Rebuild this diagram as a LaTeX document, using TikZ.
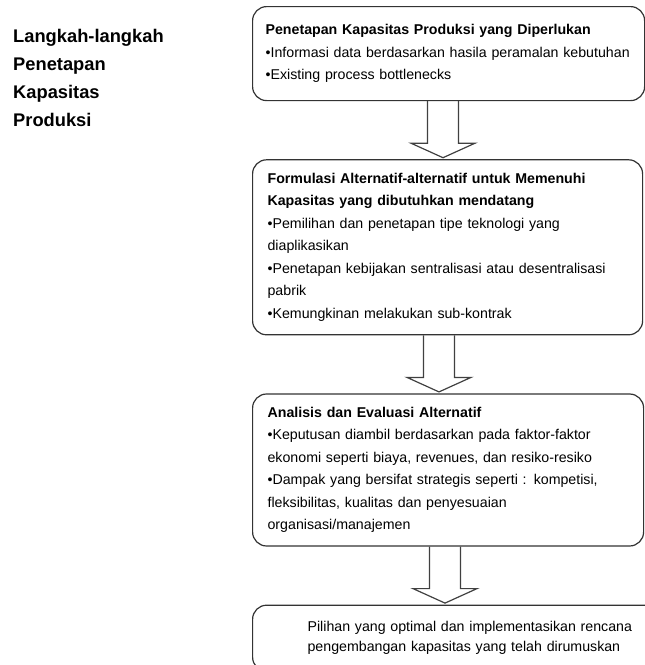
\documentclass[tikz,border=0pt]{standalone}
\usepackage{fontspec}
\setmainfont{Liberation Sans}
\usetikzlibrary{positioning, calc}

% hollow block arrow between two stages: from, to, x of the arrow axis
\newcommand{\hollowarrow}[3]{%
  \draw[hollow] let \p1=(#1.south), \p2=(#2.north) in
    (#3pt-15.5pt,\y1) -- (#3pt-15.5pt,\y2+16pt) -- (#3pt-32pt,\y2+16pt)
    -- (#3pt,\y2+1.5pt) -- (#3pt+32pt,\y2+16pt) -- (#3pt+15.5pt,\y2+16pt)
    -- (#3pt+15.5pt,\y1);}

\begin{document}
\begin{tikzpicture}[x=1pt, y=-1pt, node distance=58pt,
    stage/.style={draw=black!80, line width=1.2pt, rounded corners=14pt,
      align=left, inner xsep=13pt, font=\fontsize{14.2}{22.5}\selectfont},
    hollow/.style={draw=black!75, line width=1.2pt, line join=miter}]
    \useasboundingbox (0,0) rectangle (645,665);
    \clip (0,0) rectangle (645,665);
    % Title
    \node (title) [anchor=north west, align=left, inner sep=0pt,
      font=\fontsize{18.3}{28}\selectfont\bfseries] at (13,29)
      {Langkah-langkah\\ Penetapan\\ Kapasitas\\ Produksi};
    % Stages
    \node (need) [stage, anchor=north west, text width=366pt, minimum height=94pt] at (252,6)
      {\textbf{Penetapan Kapasitas Produksi yang Diperlukan}\\
       •Informasi data berdasarkan hasila peramalan kebutuhan\\
       •Existing process bottlenecks};
    \node (formulate) [stage, below=of need.south west, anchor=north west,
      text width=360pt, minimum height=175pt, inner xsep=15pt]
      {\textbf{Formulasi Alternatif-alternatif untuk Memenuhi}\\
       \textbf{Kapasitas yang dibutuhkan mendatang}\\
       •Pemilihan dan penetapan tipe teknologi yang\\
       diaplikasikan\\
       •Penetapan kebijakan sentralisasi atau desentralisasi\\
       pabrik\\
       •Kemungkinan melakukan sub-kontrak};
    \node (evaluate) [stage, below=of formulate.south west, anchor=north west,
      text width=361pt, minimum height=152pt, inner xsep=15pt]
      {\textbf{Analisis dan Evaluasi Alternatif}\\
       •Keputusan diambil berdasarkan pada faktor-faktor\\
       ekonomi seperti biaya, revenues, dan resiko-resiko\\
       •Dampak yang bersifat strategis seperti : kompetisi,\\
       fleksibilitas, kualitas dan penyesuaian\\
       organisasi/manajemen};
    \node (choose) [stage, below=of evaluate.south west, anchor=north west,
      text width=326pt, minimum width=436pt, minimum height=66pt,
      font=\fontsize{14.2}{20}\selectfont]
      {Pilihan yang optimal dan implementasikan rencana\\
       pengembangan kapasitas yang telah dirumuskan};
    % Arrows
    \hollowarrow{need}{formulate}{443}
    \hollowarrow{formulate}{evaluate}{439}
    \hollowarrow{evaluate}{choose}{445}
\end{tikzpicture}
\end{document}
